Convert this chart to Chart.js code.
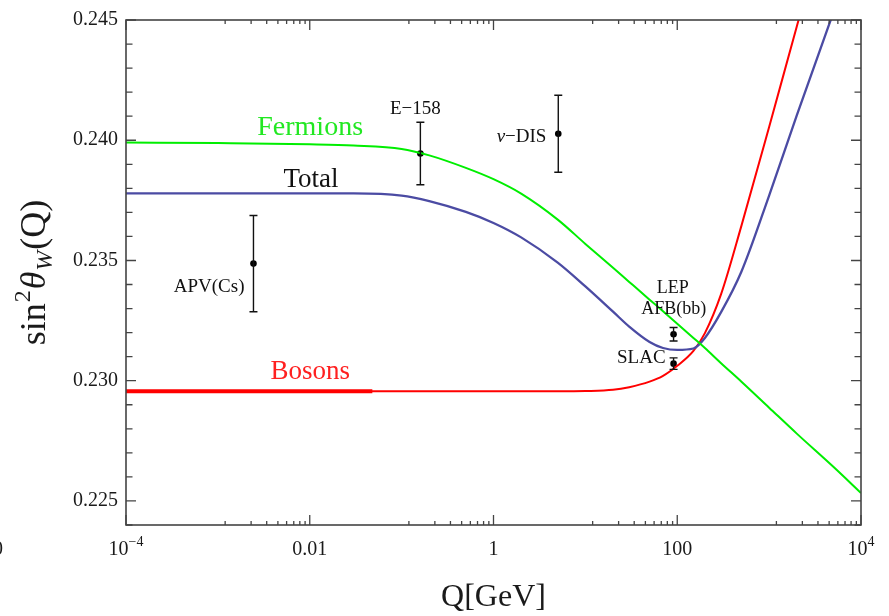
<!DOCTYPE html>
<html>
<head>
<meta charset="utf-8">
<title>Running sin2 thetaW</title>
<script src="https://cdn.jsdelivr.net/npm/chart.js@4.4.0/dist/chart.umd.min.js"></script>
<style>
  html, body { margin: 0; padding: 0; background: #fff; }
  #chart { display: block; }
</style>
</head>
<body>
<canvas id="chart" width="889" height="616"></canvas>
<script>
// curves, Q in GeV
const qGrid    = [1e-4, 1e-3, 1e-2, 0.03, 0.1, 0.2, 0.5, 1, 2, 5, 10, 20, 30, 50, 70, 100, 150, 200, 300, 500, 1000, 2000, 5000, 1e4];
const fermions = [0.23991, 0.23988, 0.23983, 0.23978, 0.23964, 0.23937, 0.23885, 0.23838, 0.23778, 0.23670, 0.23569, 0.23470, 0.23411, 0.23337, 0.23289, 0.23237, 0.23178, 0.23136, 0.23073, 0.22996, 0.22888, 0.22780, 0.22642, 0.22533];
const total    = [0.23779, 0.23779, 0.23779, 0.23779, 0.23770, 0.23747, 0.23702, 0.23656, 0.23596, 0.23491, 0.23392, 0.23287, 0.23225, 0.23161, 0.23136, 0.23128, 0.23134, 0.23178, 0.23285, 0.23454, 0.23770, 0.24103, 0.24531, 0.24856];
const bosons   = [0.22956, 0.22956, 0.22956, 0.22956, 0.22956, 0.22956, 0.22956, 0.22956, 0.22956, 0.22956, 0.22957, 0.22962, 0.22973, 0.22996, 0.23020, 0.23062, 0.23124, 0.23198, 0.23360, 0.23645, 0.24055, 0.24473, 0.25019, 0.25362];
// the thick stretch of the boson line at low Q
const bosonThickQ = [1e-4, 0.048];
const bosonThickV = [0.22956, 0.22956];

// measurements
const expQ   = [0.00244, 0.16, 5.07, 91.19, 91.19];
const expV   = [0.23487, 0.23945, 0.24027, 0.23193, 0.23071];
const expErr = [0.0020, 0.0013, 0.0016, 0.00028, 0.00024];

const xTicks = [1e-4, 1e-2, 1, 100, 1e4];
const xTickLabels = ['10^\u22124', '0.01', '1', '100', '10^4'];
const yTicks = [0.225, 0.230, 0.235, 0.240, 0.245];

const SERIF = '"Liberation Serif", "Times New Roman", serif';

// text in the plot, placed in data coordinates
const notes = [
  { runs: [['Fermions', '']], q: 0.0101, v: 0.24051, color: '#22e822', size: 28 },
  { runs: [['Total', '']], q: 0.0103, v: 0.23836, color: '#111', size: 27 },
  { runs: [['Bosons', '']], q: 0.0101, v: 0.23037, color: '#ff2020', size: 27 },
  { runs: [['E\u2212158', '']], q: 0.141, v: 0.24131, color: '#111', size: 19 },
  { runs: [['\u03bd', 'italic '], ['\u2212DIS', '']], q: 2.02, v: 0.24014, color: '#111', size: 19 },
  { runs: [['APV(Cs)', '']], q: 0.000803, v: 0.23389, color: '#111', size: 19 },
  { runs: [['LEP', '']], q: 89.3, v: 0.23386, color: '#111', size: 18 },
  { runs: [['AFB(bb)', '']], q: 91.6, v: 0.23296, color: '#111', size: 18 },
  { runs: [['SLAC', '']], q: 40.6, v: 0.23096, color: '#111', size: 19 }
];

const pts = (xs, ys) => xs.map((x, i) => ({ x: x, y: ys[i] }));

function drawRuns(ctx, runs, size, cx, cy) {
  let w = 0;
  runs.forEach(r => { ctx.font = r[1] + size + 'px ' + SERIF; w += ctx.measureText(r[0]).width; });
  let x0 = cx - w / 2;
  ctx.textBaseline = 'middle';
  ctx.textAlign = 'left';
  runs.forEach(r => {
    ctx.font = r[1] + size + 'px ' + SERIF;
    ctx.fillText(r[0], x0, cy);
    x0 += ctx.measureText(r[0]).width;
  });
}

const decorations = {
  id: 'decorations',
  afterDatasetsDraw(chart) {
    const { ctx, chartArea: a, scales: { x, y } } = chart;
    ctx.save();

    // error bars
    ctx.strokeStyle = '#111';
    ctx.lineWidth = 1.4;
    expQ.forEach((q, i) => {
      const px = x.getPixelForValue(q);
      const top = y.getPixelForValue(expV[i] + expErr[i]);
      const bot = y.getPixelForValue(expV[i] - expErr[i]);
      ctx.beginPath();
      ctx.moveTo(px, top); ctx.lineTo(px, bot);
      ctx.moveTo(px - 4, top); ctx.lineTo(px + 4, top);
      ctx.moveTo(px - 4, bot); ctx.lineTo(px + 4, bot);
      ctx.stroke();
    });

    // inward ticks on all four sides
    ctx.strokeStyle = '#444';
    ctx.lineWidth = 1.3;
    ctx.beginPath();
    for (let i = 224; i <= 245; i++) {
      const py = y.getPixelForValue(i / 1000);
      const len = i % 5 === 0 ? 10 : 6.5;
      ctx.moveTo(a.left, py); ctx.lineTo(a.left + len, py);
      ctx.moveTo(a.right, py); ctx.lineTo(a.right - len, py);
    }
    xTicks.forEach((t, i) => {
      const px = x.getPixelForValue(t);
      ctx.moveTo(px, a.bottom); ctx.lineTo(px, a.bottom - 10);
      ctx.moveTo(px, a.top); ctx.lineTo(px, a.top + 10);
      if (i < xTicks.length - 1) {
        for (let k = 1; k <= 8; k++) {
          const mx = x.getPixelForValue(t * (1 + 11 * k));
          ctx.moveTo(mx, a.bottom); ctx.lineTo(mx, a.bottom - 4);
          ctx.moveTo(mx, a.top); ctx.lineTo(mx, a.top + 4);
        }
      }
    });
    ctx.stroke();
    ctx.lineWidth = 1.6;
    ctx.strokeRect(a.left, a.top, a.right - a.left, a.bottom - a.top);

    // x tick labels with superscripts
    ctx.fillStyle = '#1a1a1a';
    ctx.textBaseline = 'alphabetic';
    ctx.textAlign = 'left';
    xTickLabels.forEach((lab, i) => {
      const parts = lab.split('^');
      ctx.font = '20px ' + SERIF;
      const wb = ctx.measureText(parts[0]).width;
      let we = 0;
      if (parts[1]) { ctx.font = '14px ' + SERIF; we = ctx.measureText(parts[1]).width; }
      const x0 = x.getPixelForValue(xTicks[i]) - (wb + we) / 2;
      ctx.font = '20px ' + SERIF;
      ctx.fillText(parts[0], x0, 555);
      if (parts[1]) {
        ctx.font = '14px ' + SERIF;
        ctx.fillText(parts[1], x0 + wb, 546);
      }
    });
    // clipped label of a neighbouring panel
    ctx.font = '20px ' + SERIF;
    ctx.fillText('0', -7, 555);

    // notes
    notes.forEach(n => {
      ctx.fillStyle = n.color;
      drawRuns(ctx, n.runs, n.size, x.getPixelForValue(n.q), y.getPixelForValue(n.v));
    });

    // y axis title: sin^2 theta_W (Q)
    const runs = [
      ['sin', '', 36, 0], ['2', '', 24, -15], ['\u03b8', 'italic ', 36, 0],
      ['W', 'italic ', 24, 7], ['(Q)', '', 36, 0]
    ];
    ctx.textBaseline = 'alphabetic';
    let w = 0;
    runs.forEach(r => { ctx.font = r[1] + r[2] + 'px ' + SERIF; w += ctx.measureText(r[0]).width + 1; });
    ctx.translate(45, 272);
    ctx.rotate(-Math.PI / 2);
    ctx.fillStyle = '#1a1a1a';
    let x0 = -w / 2;
    runs.forEach(r => {
      ctx.font = r[1] + r[2] + 'px ' + SERIF;
      ctx.fillText(r[0], x0, r[3]);
      x0 += ctx.measureText(r[0]).width + 1;
    });
    ctx.restore();
  }
};

const curve = (data, color, width) => ({
  type: 'line',
  data: data,
  borderColor: color,
  borderWidth: width,
  pointRadius: 0,
  cubicInterpolationMode: 'monotone',
  fill: false,
  clip: 0
});

new Chart(document.getElementById('chart'), {
  type: 'line',
  data: {
    datasets: [
      curve(pts(qGrid, fermions), '#00ee00', 2),
      curve(pts(qGrid, total), '#4b4ba3', 2.3),
      curve(pts(qGrid, bosons), '#ff0000', 2),
      curve(pts(bosonThickQ, bosonThickV), '#ff0000', 4),
      {
        type: 'scatter',
        data: pts(expQ, expV),
        pointRadius: 3.3,
        pointBackgroundColor: '#000',
        pointBorderWidth: 0,
        clip: 0
      }
    ]
  },
  options: {
    responsive: false,
    animation: false,
    devicePixelRatio: 1,
    layout: { padding: { left: 0, top: 17, right: 28, bottom: 0 } },
    plugins: { legend: { display: false }, tooltip: { enabled: false } },
    scales: {
      x: {
        type: 'logarithmic',
        min: 1e-4,
        max: 1e4,
        grid: { display: false },
        border: { display: false },
        ticks: { display: false },
        afterBuildTicks: s => { s.ticks = xTicks.map(v => ({ value: v })); },
        afterFit: s => { s.height = 91; },
        title: {
          display: true,
          text: 'Q[GeV]',
          color: '#1a1a1a',
          font: { family: SERIF, size: 32, lineHeight: 1.15 },
          padding: { top: 0, bottom: 0 }
        }
      },
      y: {
        min: 0.224,
        max: 0.245,
        grid: { display: false, drawTicks: false },
        border: { display: false },
        afterBuildTicks: s => { s.ticks = yTicks.map(v => ({ value: v })); },
        afterFit: s => { s.width = 126; },
        ticks: {
          padding: 8,
          color: '#1a1a1a',
          font: { family: SERIF, size: 20 },
          callback: v => v.toFixed(3)
        }
      }
    }
  },
  plugins: [decorations]
});
</script>
</body>
</html>
